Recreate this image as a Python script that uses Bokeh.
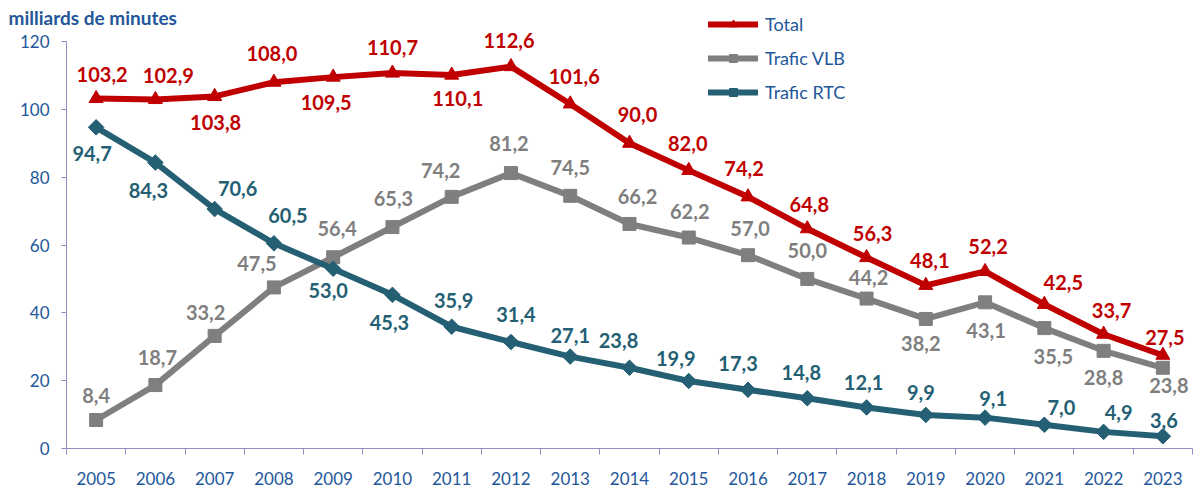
from bokeh.plotting import figure
from bokeh.models import ColumnDataSource, FixedTicker, Legend, LegendItem, Title, Range1d
from bokeh.core.properties import value
from bokeh.embed import file_html
from bokeh.resources import INLINE

# ---- data ----
years = list(range(2005, 2024))
total = [103.2, 102.9, 103.8, 108.0, 109.5, 110.7, 110.1, 112.6, 101.6, 90.0,
         82.0, 74.2, 64.8, 56.3, 48.1, 52.2, 42.5, 33.7, 27.5]
vlb = [8.4, 18.7, 33.2, 47.5, 56.4, 65.3, 74.2, 81.2, 74.5, 66.2,
       62.2, 57.0, 50.0, 44.2, 38.2, 43.1, 35.5, 28.8, 23.8]
rtc = [94.7, 84.3, 70.6, 60.5, 53.0, 45.3, 35.9, 31.4, 27.1, 23.8,
       19.9, 17.3, 14.8, 12.1, 9.9, 9.1, 7.0, 4.9, 3.6]
y_ticks = [0, 20, 40, 60, 80, 100, 120]
series_names = ["Total", "Trafic VLB", "Trafic RTC"]
unit_title = "milliards de minutes"

# ---- label placement (screen px offsets, style only) ----
total_dx = [6, 13, 1, -2, -7, 0, 6, -2, 4, 8, -1, -4, 2, 6, 4, 3, 19, 8, 2]
total_dy = [-24, -24, 26, -29, 25, -26, 23, -26, -27, -29, -27, -28, -24, -24, -25, -25, -22, -24, -18]
vlb_dx = [0, 2, -9, -17, 4, 1, -11, -2, 0, 8, 1, 2, 0, 2, -5, 1, 9, 0, 6]
vlb_dy = [-25, -28, -23, -24, -29, -29, -26, -30, -28, -27, -26, -27, -28, -21, 25, 28, 28, 27, 18]
rtc_dx = [-4, -7, 23, 14, -5, -3, 2, 5, 0, -11, -13, -10, -6, -3, -5, 8, 17, 15, 1]
rtc_dy = [26, 28, -21, -28, 22, 28, -26, -28, -21, -27, -23, -26, -26, -25, -22, -19, -17, -19, -16]

RED = "#C00000"
GREY = "#7F7F7F"
TEAL = "#245F74"
BLUE = "#23579A"
AXIS = "#8F8FC2"
FONT = "Lato"


def fmt(v):
    return f"{v:.1f}".replace(".", ",")


p = figure(width=1197, height=489, output_backend="svg", toolbar_location=None,
           x_range=Range1d(2004.5, 2023.5), y_range=Range1d(0, 128.26),
           min_border_left=66, min_border_right=5, min_border_top=13, min_border_bottom=41)
p.outline_line_color = None
p.xgrid.visible = False
p.ygrid.visible = False
p.background_fill_color = "white"

# axes
p.xaxis.ticker = FixedTicker(ticks=years, minor_ticks=[y - 0.5 for y in years] + [years[-1] + 0.5])
p.xaxis.major_tick_out = 0
p.xaxis.major_tick_in = 0
p.xaxis.minor_tick_out = 6
p.xaxis.minor_tick_in = 0
p.xaxis.minor_tick_line_color = AXIS
p.xaxis.axis_line_color = AXIS
p.xaxis.major_label_standoff = 17
p.xaxis.major_label_text_font = FONT
p.xaxis.major_label_text_font_size = "17px"
p.xaxis.major_label_text_color = BLUE

p.yaxis.ticker = FixedTicker(ticks=y_ticks)
p.yaxis.bounds = (0, 120)
p.yaxis.minor_tick_line_color = None
p.yaxis.major_tick_out = 5
p.yaxis.major_tick_in = 0
p.yaxis.major_tick_line_color = AXIS
p.yaxis.axis_line_color = AXIS
p.yaxis.major_label_standoff = 12
p.yaxis.major_label_text_font = FONT
p.yaxis.major_label_text_font_size = "17px"
p.yaxis.major_label_text_color = BLUE

src_v = ColumnDataSource(dict(x=years, y=vlb, t=[fmt(v) for v in vlb], dx=vlb_dx, dy=vlb_dy))
src_r = ColumnDataSource(dict(x=years, y=rtc, t=[fmt(v) for v in rtc], dx=rtc_dx, dy=rtc_dy))
src_t = ColumnDataSource(dict(x=years, y=total, t=[fmt(v) for v in total], dx=total_dx, dy=total_dy))

lv = p.line("x", "y", source=src_v, line_color=GREY, line_width=6, line_join="round", line_cap="round")
mv = p.scatter("x", "y", source=src_v, marker="square", size=13, fill_color=GREY, line_color=GREY)
lr = p.line("x", "y", source=src_r, line_color=TEAL, line_width=6, line_join="round", line_cap="round")
mr = p.scatter("x", "y", source=src_r, marker="square", angle=0.785398, size=11, fill_color=TEAL, line_color=TEAL)
lt = p.line("x", "y", source=src_t, line_color=RED, line_width=6, line_join="round", line_cap="round")
mt = p.scatter("x", "y", source=src_t, marker="triangle", size=14, fill_color=RED, line_color=RED)

for src, col in ((src_v, GREY), (src_r, TEAL), (src_t, RED)):
    p.text("x", "y", text="t", x_offset="dx", y_offset="dy", source=src,
           text_font=value(FONT), text_font_style="bold", text_font_size="20px",
           text_align="center", text_baseline="middle", text_color=col)

legend = Legend(items=[LegendItem(label=series_names[0], renderers=[lt, mt]),
                       LegendItem(label=series_names[1], renderers=[lv, mv]),
                       LegendItem(label=series_names[2], renderers=[lr, mr])],
                location=(642, 345), orientation="vertical",
                glyph_width=50, glyph_height=20, label_height=20, spacing=12,
                padding=0, margin=0, label_standoff=7,
                label_text_font=FONT, label_text_font_size="18px", label_text_color=BLUE,
                border_line_color=None, background_fill_alpha=0)
p.add_layout(legend)

p.add_layout(Title(text=unit_title, align="left", offset=-58, standoff=-30,
                   text_font=FONT, text_font_style="bold", text_font_size="19px",
                   text_color=BLUE), "above")

open("out.html", "w").write(file_html(p, INLINE))
